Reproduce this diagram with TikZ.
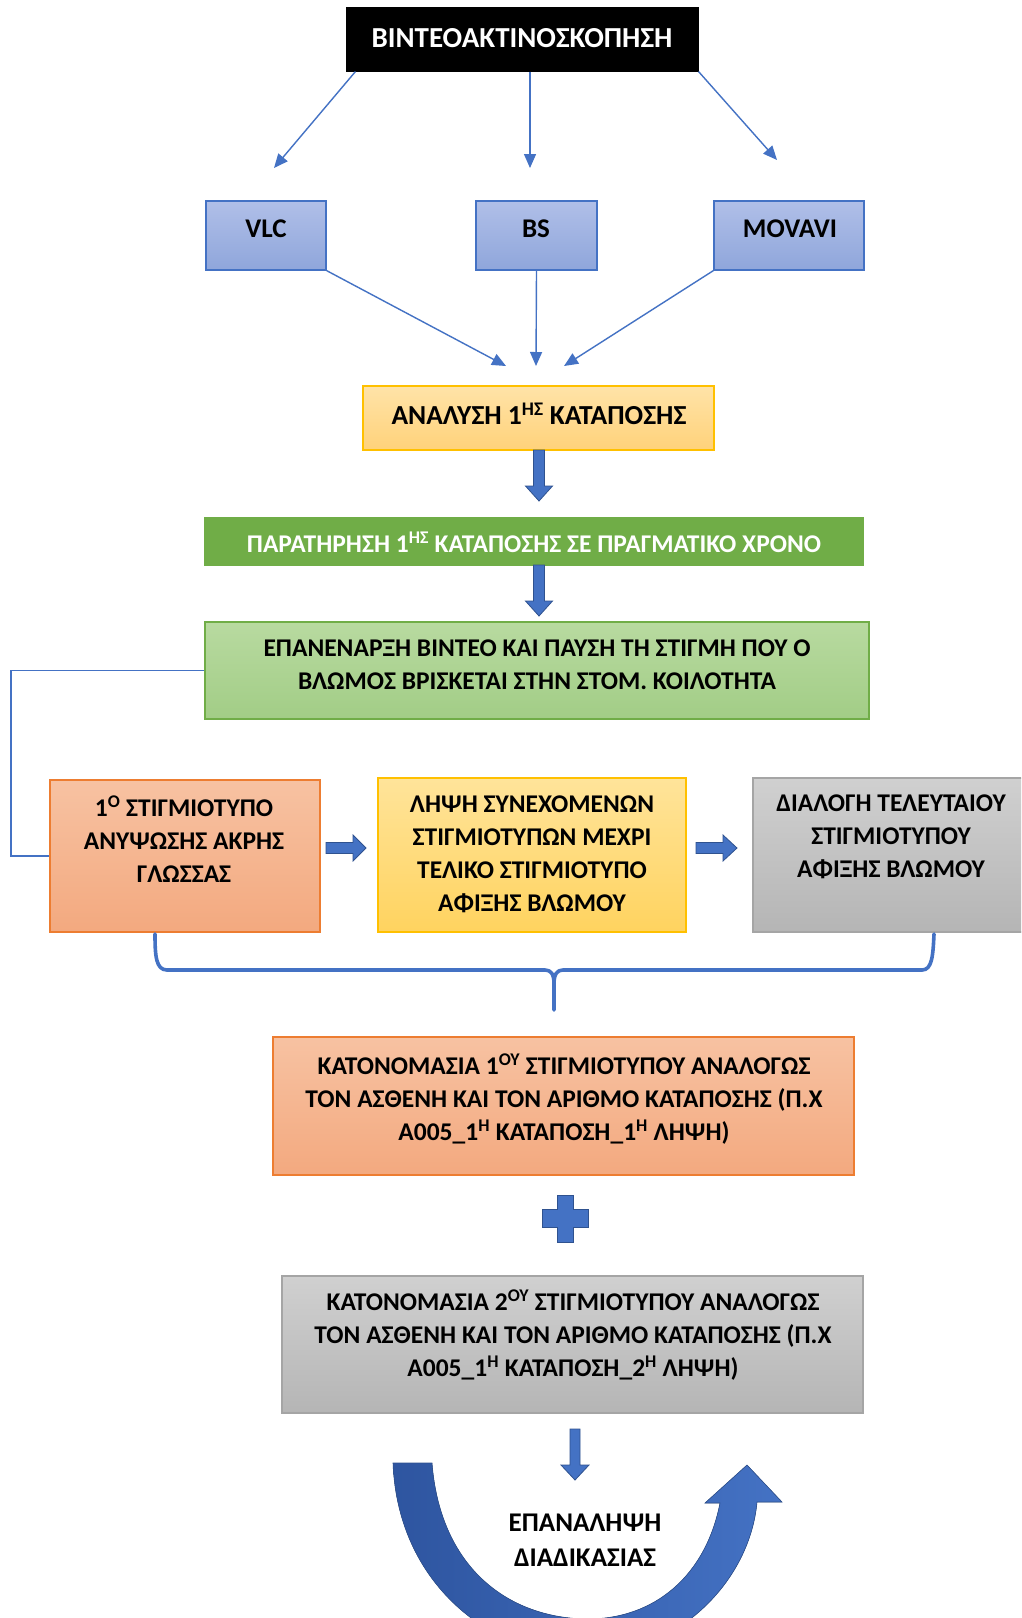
\documentclass[tikz,border=0pt]{standalone}
\usepackage{fontspec}
\setmainfont{Carlito}
\usetikzlibrary{arrows.meta}
\definecolor{accblue}{HTML}{4472C4}
\definecolor{edgeblue}{HTML}{2F528F}
\definecolor{curveL}{HTML}{2E55A0}
\definecolor{boxblueT}{HTML}{B0BFE8}
\definecolor{boxblueB}{HTML}{8FA6DB}
\definecolor{orangeT}{HTML}{FFE3A8}
\definecolor{orangeB}{HTML}{FFD27A}
\definecolor{gold}{HTML}{FFC000}
\definecolor{dgreen}{HTML}{70AD47}
\definecolor{lgreenT}{HTML}{B8DAA0}
\definecolor{lgreenB}{HTML}{A2CD86}
\definecolor{salmonT}{HTML}{F7C2A2}
\definecolor{salmonB}{HTML}{F3A97F}
\definecolor{salmonE}{HTML}{ED7D31}
\definecolor{yellowT}{HTML}{FFE49A}
\definecolor{yellowB}{HTML}{FFD35F}
\definecolor{greyT}{HTML}{D0D0D0}
\definecolor{greyB}{HTML}{B5B5B5}
\definecolor{greyE}{HTML}{A5A5A5}
\begin{document}
\begin{tikzpicture}[x=1pt,y=-1pt,
  box/.style={rectangle, draw, line width=1.2pt, inner sep=0pt},
  txt/.style={inner sep=0pt, align=center, text=black, font=\bfseries\fontsize{25.5}{33}\selectfont},
  thinarrow/.style={draw=accblue, line width=1.4pt, -{Triangle[length=14pt,width=12pt]}},
  conn/.style={draw=accblue, line width=1.4pt},
  barrow/.style={fill=accblue, draw=edgeblue, line width=0.8pt, line join=miter},
  bracestyle/.style={draw=accblue, line width=3.6pt, line cap=round, line join=round}]
\useasboundingbox (0,0) rectangle (1021,1618);
\clip (0,0) rectangle (1021,1618);
\fill[white] (0,0) rectangle (1021,1618);

% top box
\node[box, fill=black, draw=black, minimum width=351pt, minimum height=63pt] (top) at (522.5,39.5) {};
\node[txt, text=white, font=\bfseries\fontsize{29}{33}\selectfont] (topt) at (522,38) {ΒΙΝΤΕΟΑΚΤΙΝΟΣΚΟΠΗΣΗ};

% software boxes
\node[box, draw=accblue, top color=boxblueT, bottom color=boxblueB, minimum width=120pt, minimum height=69pt] (vlc) at (266,235.5) {};
\node[box, draw=accblue, top color=boxblueT, bottom color=boxblueB, minimum width=121pt, minimum height=69pt] (bs) at (536.5,235.5) {};
\node[box, draw=accblue, top color=boxblueT, bottom color=boxblueB, minimum width=150pt, minimum height=69pt] (mov) at (789,235.5) {};
\node[txt, font=\bfseries\fontsize{27}{33}\selectfont] (vlct) at (266,229) {VLC};
\node[txt, font=\bfseries\fontsize{27}{33}\selectfont] (bst) at (536,229) {BS};
\node[txt, font=\bfseries\fontsize{27}{33}\selectfont] (movt) at (790,229) {MOVAVI};

% arrows from top box
\coordinate (e1) at (274,168);
\coordinate (e2) at (530,168);
\coordinate (e3) at (777,160);
\draw[thinarrow] ([xshift=9pt]top.south west) -- (e1);
\draw[thinarrow] ([xshift=7.5pt]top.south) -- (e2);
\draw[thinarrow] (top.south east) -- (e3);

% analysis box
\node[box, draw=gold, top color=orangeT, bottom color=orangeB, minimum width=351pt, minimum height=64pt] (anal) at (538.5,418) {};
\node[txt, font=\bfseries\fontsize{27.5}{33}\selectfont] (analt) at (539,414) {ΑΝΑΛΥΣΗ 1\textsuperscript{ΗΣ} ΚΑΤΑΠΟΣΗΣ};

% arrows to analysis
\coordinate (f1) at (506,366);
\coordinate (f2) at (536,366);
\coordinate (f3) at (564,366);
\draw[thinarrow] (vlc.south east) -- (f1);
\draw[thinarrow] (bs.south) -- (f2);
\draw[thinarrow] (mov.south west) -- (f3);

% block arrow 1
\filldraw[barrow] (533.5,450) -- (544.5,450) -- (544.5,486) -- (552.5,486) -- (539,501) -- (525.5,486) -- (533.5,486) -- cycle;

% dark green box
\node[box, draw=dgreen, fill=dgreen, minimum width=658pt, minimum height=47pt] (g1) at (534,541.5) {};
\node[txt, text=white] (g1t) at (534,542) {ΠΑΡΑΤΗΡΗΣΗ 1\textsuperscript{ΗΣ} ΚΑΤΑΠΟΣΗΣ ΣΕ ΠΡΑΓΜΑΤΙΚΟ ΧΡΟΝΟ};

% block arrow 2
\filldraw[barrow] (533.5,565) -- (544.5,565) -- (544.5,601) -- (552.5,601) -- (539,616) -- (525.5,601) -- (533.5,601) -- cycle;

% light green box
\node[box, draw=dgreen, top color=lgreenT, bottom color=lgreenB, minimum width=664pt, minimum height=97pt] (g2) at (537,670.5) {};
\node[txt] (g2t) at (537,664.5) {ΕΠΑΝΕΝΑΡΞΗ ΒΙΝΤΕΟ ΚΑΙ ΠΑΥΣΗ ΤΗ ΣΤΙΓΜΗ ΠΟΥ Ο\\ΒΛΩΜΟΣ ΒΡΙΣΚΕΤΑΙ ΣΤΗΝ ΣΤΟΜ. ΚΟΙΛΟΤΗΤΑ};

% row of three boxes
\node[box, draw=salmonE, top color=salmonT, bottom color=salmonB, minimum width=270pt, minimum height=152pt] (s1) at (185,856) {};
\node[txt] (s1t) at (184,839) {1\textsuperscript{Ο} ΣΤΙΓΜΙΟΤΥΠΟ\\ΑΝΥΨΩΣΗΣ ΑΚΡΗΣ\\ΓΛΩΣΣΑΣ};
\node[box, draw=gold, top color=yellowT, bottom color=yellowB, minimum width=308pt, minimum height=154pt] (s2) at (532,855) {};
\node[txt] (s2t) at (532,854) {ΛΗΨΗ ΣΥΝΕΧΟΜΕΝΩΝ\\ΣΤΙΓΜΙΟΤΥΠΩΝ ΜΕΧΡΙ\\ΤΕΛΙΚΟ ΣΤΙΓΜΙΟΤΥΠΟ\\ΑΦΙΞΗΣ ΒΛΩΜΟΥ};
\node[box, draw=greyE, top color=greyT, bottom color=greyB, minimum width=272pt, minimum height=154pt] (s3) at (889,855) {};
\node[txt] (s3t) at (891,837) {ΔΙΑΛΟΓΗ ΤΕΛΕΥΤΑΙΟΥ\\ΣΤΙΓΜΙΟΤΥΠΟΥ\\ΑΦΙΞΗΣ ΒΛΩΜΟΥ};

% loop connector
\draw[conn] (g2.west) -- (11,670.5) |- (s1.west);

% small right block arrows
\filldraw[barrow] (326,842.5) -- (353,842.5) -- (353,835) -- (366,848) -- (353,861) -- (353,853.5) -- (326,853.5) -- cycle;
\filldraw[barrow] (696,842.5) -- (723,842.5) -- (723,835) -- (737,848) -- (723,861) -- (723,853.5) -- (696,853.5) -- cycle;

% brace
\draw[bracestyle] (155,934) .. controls (155,956) and (156,970) .. (167,970) -- (545,970)
  .. controls (551,970) and (554,974) .. (554,984) -- (554,1010);
\draw[bracestyle] (554,984) .. controls (554,974) and (557,970) .. (563,970) -- (922,970)
  .. controls (932,970) and (933,956) .. (934,934);

% naming boxes
\node[box, draw=salmonE, top color=salmonT, bottom color=salmonB, minimum width=581pt, minimum height=138pt] (k1) at (563.5,1106) {};
\node[txt] (k1t) at (564,1099.5) {ΚΑΤΟΝΟΜΑΣΙΑ 1\textsuperscript{ΟΥ} ΣΤΙΓΜΙΟΤΥΠΟΥ ΑΝΑΛΟΓΩΣ\\ΤΟΝ ΑΣΘΕΝΗ ΚΑΙ ΤΟΝ ΑΡΙΘΜΟ ΚΑΤΑΠΟΣΗΣ (Π.Χ\\Α005\_1\textsuperscript{Η} ΚΑΤΑΠΟΣΗ\_1\textsuperscript{Η} ΛΗΨΗ)};

% plus sign
\filldraw[barrow] (557,1195) -- (573,1195) -- (573,1209) -- (588,1209) -- (588,1227) -- (573,1227)
  -- (573,1242) -- (557,1242) -- (557,1227) -- (542,1227) -- (542,1209) -- (557,1209) -- cycle;

\node[box, draw=greyE, top color=greyT, bottom color=greyB, minimum width=581pt, minimum height=137pt] (k2) at (572.5,1344.5) {};
\node[txt] (k2t) at (573,1335.5) {ΚΑΤΟΝΟΜΑΣΙΑ 2\textsuperscript{ΟΥ} ΣΤΙΓΜΙΟΤΥΠΟΥ ΑΝΑΛΟΓΩΣ\\ΤΟΝ ΑΣΘΕΝΗ ΚΑΙ ΤΟΝ ΑΡΙΘΜΟ ΚΑΤΑΠΟΣΗΣ (Π.Χ\\Α005\_1\textsuperscript{Η} ΚΑΤΑΠΟΣΗ\_2\textsuperscript{Η} ΛΗΨΗ)};

% down block arrow
\filldraw[barrow] (570,1429) -- (580,1429) -- (580,1465) -- (589,1465) -- (575,1480) -- (561,1465) -- (570,1465) -- cycle;

% curved return arrow
\fill[left color=curveL, right color=accblue, draw=edgeblue, line width=0.6pt]
  (393,1463) .. controls (398,1590) and (500,1660) .. (590,1656)
  .. controls (680,1652) and (750,1580) .. (757,1502)
  -- (782,1502) -- (747,1465) -- (705,1503) -- (720,1503)
  .. controls (706,1575) and (655,1620) .. (585,1619)
  .. controls (505,1617) and (440,1565) .. (432,1463) -- cycle;

\node[txt, font=\bfseries\fontsize{27}{35}\selectfont] (rep) at (585,1540) {ΕΠΑΝΑΛΗΨΗ\\ΔΙΑΔΙΚΑΣΙΑΣ};
\end{tikzpicture}
\end{document}
